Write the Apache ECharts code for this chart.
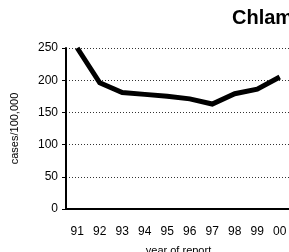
<!DOCTYPE html>
<html>
<head>
<meta charset="utf-8">
<script src="https://cdn.jsdelivr.net/npm/echarts@6/dist/echarts.min.js"></script>
<style>
  html, body { margin: 0; padding: 0; background: #fff; overflow: hidden; }
  #chart { width: 340px; height: 252px; }
</style>
</head>
<body>
<div id="chart"></div>
<script>
  // values
  const years = ['91', '92', '93', '94', '95', '96', '97', '98', '99', '00']
  const rates = [250, 196, 181, 178, 175, 171, 163, 179, 186, 205]
  const yTicks = { min: 0, max: 250, interval: 50 }

  const chart = echarts.init(document.getElementById('chart'))
  chart.setOption({
    animation: false,
    title: {
      text: 'Chlamydia',
      left: 232,
      top: 8,
      padding: 0,
      textStyle: {
        fontFamily: 'Liberation Sans',
        fontSize: 20,
        fontWeight: 'bold',
        color: '#000'
      }
    },
    grid: {
      left: 66,
      top: 48,
      width: 225,
      height: 161,
      outerBoundsMode: 'none'
    },
    xAxis: {
      type: 'category',
      data: years,
      boundaryGap: true,
      name: 'year of report',
      nameLocation: 'middle',
      nameGap: 36,
      nameTextStyle: { fontFamily: 'Liberation Sans', fontSize: 11, color: '#000' },
      axisLine: { lineStyle: { color: '#000', width: 2 } },
      axisTick: { alignWithLabel: true, length: 4, lineStyle: { color: '#000' } },
      axisLabel: {
        margin: 17,
        fontFamily: 'Liberation Sans',
        fontSize: 12,
        color: '#000'
      },
      splitLine: { show: false }
    },
    yAxis: {
      type: 'value',
      min: yTicks.min,
      max: yTicks.max,
      interval: yTicks.interval,
      name: 'cases/100,000',
      nameLocation: 'middle',
      nameGap: 46,
      nameTextStyle: { fontFamily: 'Liberation Sans', fontSize: 11, color: '#000' },
      axisLine: { show: true, lineStyle: { color: '#000', width: 2 } },
      axisTick: { show: true, length: 4, lineStyle: { color: '#000' } },
      axisLabel: {
        margin: 8,
        fontFamily: 'Liberation Sans',
        fontSize: 12,
        color: '#000'
      },
      splitLine: { lineStyle: { color: '#333', type: [1, 2], width: 1 } }
    },
    series: [{
      type: 'line',
      data: rates,
      symbol: 'none',
      lineStyle: { color: '#000', width: 5, join: 'miter' },
      z: 3
    }]
  })
</script>
</body>
</html>
